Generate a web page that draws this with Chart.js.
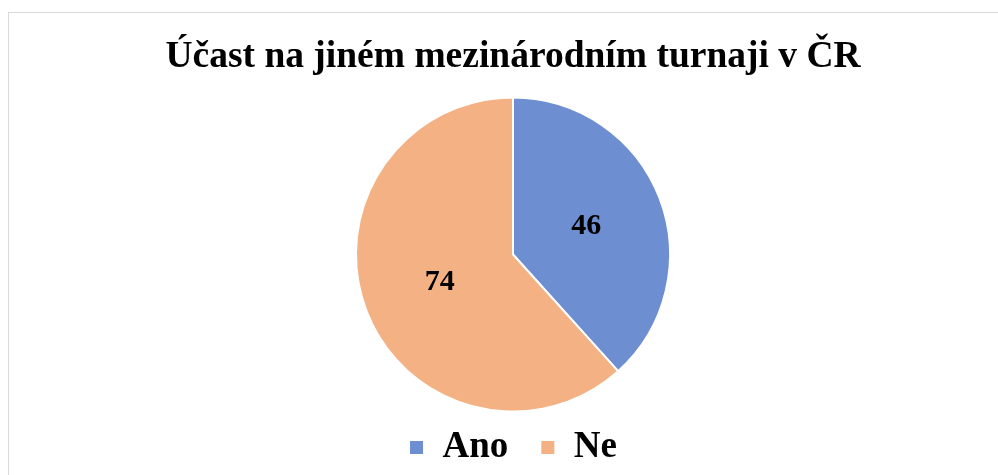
<!DOCTYPE html>
<html>
<head>
<meta charset="utf-8">
<script src="https://cdn.jsdelivr.net/npm/chart.js@4"></script>
<style>
    html, body { margin: 0; padding: 0; background: #fff; overflow: hidden; }
    #wrap { position: relative; width: 998px; height: 475px; overflow: hidden; }
    #frame {
        position: absolute; left: 8px; top: 12px; width: 1000px; height: 500px;
        border: 1px solid #d9d9d9; box-sizing: border-box; pointer-events: none;
    }
    #chart { position: absolute; left: 0; top: 0; }
</style>
</head>
<body>
<div id="wrap">
    <div id="frame"></div>
    <div style="position:absolute;left:0;top:0;width:998px;height:476px;">
        <canvas id="chart"></canvas>
    </div>
</div>
<script>
// Data
const chartTitle = 'Účast na jiném mezinárodním turnaji v ČR';
const categories = ['Ano', 'Ne'];
const counts = [46, 74];
const sliceColors = ['#6D8FD1', '#F4B183'];

const serif = "'Liberation Serif', 'Times New Roman', serif";

// Value labels inside slices
const sliceLabels = {
    id: 'sliceLabels',
    afterDatasetsDraw(chart) {
        const ctx = chart.ctx;
        const meta = chart.getDatasetMeta(0);
        ctx.save();
        ctx.font = `bold 30px ${serif}`;
        ctx.fillStyle = '#000';
        ctx.textAlign = 'center';
        ctx.textBaseline = 'middle';
        meta.data.forEach((arc, i) => {
            const pos = arc.tooltipPosition();
            ctx.fillText(String(counts[i]), pos.x, pos.y);
        });
        ctx.restore();
    }
};

new Chart(document.getElementById('chart'), {
    type: 'pie',
    data: {
        labels: categories,
        datasets: [{
            data: counts,
            backgroundColor: sliceColors,
            borderColor: '#ffffff',
            borderWidth: 2,
            radius: 157
        }]
    },
    options: {
        responsive: true,
        maintainAspectRatio: false,
        animation: false,
        events: [],
        layout: { padding: { left: 28, right: 0, top: 0, bottom: 0 } },
        plugins: {
            title: {
                display: true,
                text: chartTitle,
                color: '#000',
                font: { family: serif, size: 37.5, weight: 'bold', lineHeight: 1.2 },
                padding: { top: 35, bottom: 32 }
            },
            legend: {
                position: 'bottom',
                labels: {
                    color: '#000',
                    boxWidth: 15,
                    boxHeight: 15,
                    padding: 32,
                    font: { family: serif, size: 37, weight: 'bold' }
                }
            },
            tooltip: { enabled: false }
        }
    },
    plugins: [sliceLabels]
});
</script>
</body>
</html>
